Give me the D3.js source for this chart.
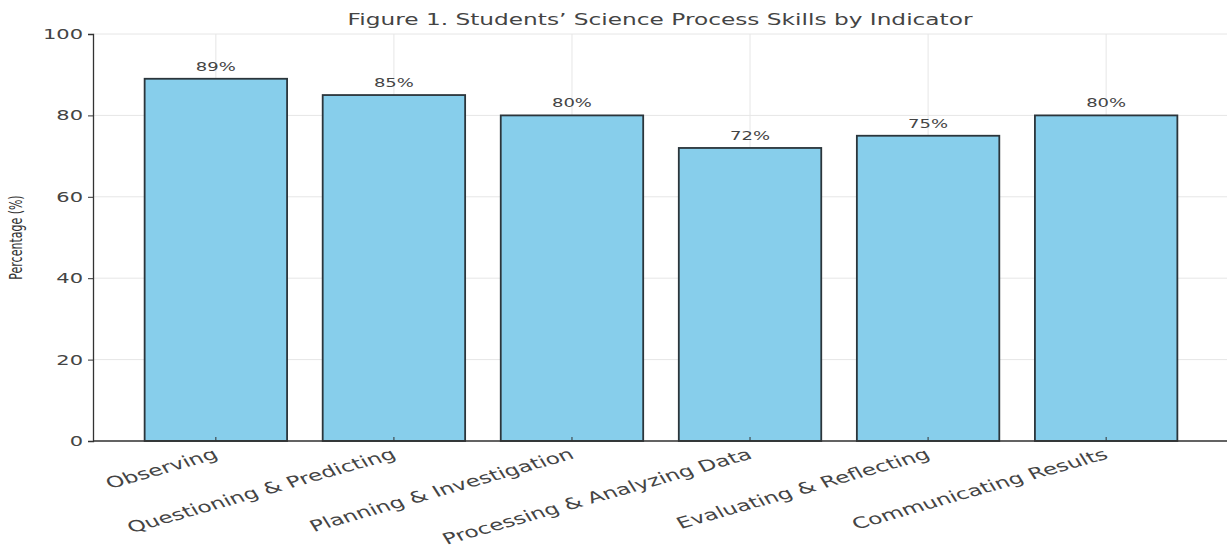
<!DOCTYPE html>
<html>
<head>
<meta charset="utf-8">
<script src="https://cdn.jsdelivr.net/npm/d3@7"></script>
<style>
  body { margin: 0; background: #fff; }
  svg { display: block; font-family: "DejaVu Sans", sans-serif; }
</style>
</head>
<body>
<svg id="chart" width="1227" height="554"></svg>
<script>
const categories = ["Observing", "Questioning & Predicting", "Planning & Investigation",
                    "Processing & Analyzing Data", "Evaluating & Reflecting", "Communicating Results"]
const percentages = [89, 85, 80, 72, 75, 80]
const yTicks = [0, 20, 40, 60, 80, 100]
const titleText = "Figure 1. Students\u2019 Science Process Skills by Indicator"
const yLabel = "Percentage (%)"

const svg = d3.select("#chart")
const plotLeft = 93, plotRight = 1229, plotTop = 34, plotBottom = 441
const stretch = 1.5 // reference text looks widened horizontally

// band positions like matplotlib: bar width 0.8, margin 0.29 each side
const x = d3.scaleLinear().domain([-0.69, categories.length - 1 + 0.69]).range([plotLeft, plotRight])
const y = d3.scaleLinear().domain([0, 100]).range([plotBottom, plotTop])
const barW = x(0.8) - x(0)

// grid
const grid = svg.append("g").attr("class", "grid")
grid.selectAll(".hg").data(yTicks).join("line")
    .attr("x1", plotLeft).attr("x2", 1227)
    .attr("y1", d => y(d)).attr("y2", d => y(d))
    .attr("stroke", "#e6e6e6").attr("stroke-width", 1)
grid.selectAll(".vg").data(categories).join("line")
    .attr("x1", (d, i) => x(i)).attr("x2", (d, i) => x(i))
    .attr("y1", plotTop).attr("y2", plotBottom)
    .attr("stroke", "#e6e6e6").attr("stroke-width", 1)

// bars
svg.append("g").selectAll("rect").data(percentages).join("rect")
    .attr("x", (d, i) => x(i) - barW / 2)
    .attr("y", d => y(d))
    .attr("width", barW)
    .attr("height", d => y(0) - y(d))
    .attr("fill", "#87CEEB")
    .attr("stroke", "#2b353b")
    .attr("stroke-width", 1.8)

// value labels
svg.append("g").selectAll("text").data(percentages).join("text")
    .attr("transform", (d, i) => `translate(${x(i)},${y(d) - 8}) scale(${stretch},1)`)
    .attr("text-anchor", "middle")
    .attr("font-size", 12)
    .attr("fill", "#444")
    .text(d => d + "%")

// y axis
const yAxis = svg.append("g").attr("transform", `translate(${plotLeft},0)`)
    .call(d3.axisLeft(y).tickValues(yTicks).tickSize(5).tickPadding(0))
yAxis.select(".domain").attr("stroke", "#333").attr("stroke-width", 1.3)
yAxis.selectAll(".tick line").attr("stroke", "#333")
yAxis.selectAll(".tick text")
    .attr("x", null)
    .attr("transform", `translate(-10,0) scale(${stretch},1)`)
    .attr("font-size", 14).attr("fill", "#444")
    .attr("font-family", "DejaVu Sans")

// x axis
const xAxis = svg.append("g").attr("transform", `translate(0,${plotBottom})`)
xAxis.append("line").attr("x1", plotLeft).attr("x2", 1227).attr("y1", 0).attr("y2", 0)
    .attr("stroke", "#333").attr("stroke-width", 1.3)
xAxis.selectAll(".xt").data(categories).join("line")
    .attr("x1", (d, i) => x(i)).attr("x2", (d, i) => x(i))
    .attr("y1", 0).attr("y2", -4)
    .attr("stroke", "#333")
xAxis.selectAll("text").data(categories).join("text")
    .attr("transform", (d, i) => `translate(${x(i) - 3},7) scale(${stretch},1) rotate(-23)`)
    .attr("text-anchor", "end")
    .attr("dy", "0.7em")
    .attr("font-size", 15.5)
    .attr("fill", "#444")
    .text(d => d)

// y label
svg.append("text")
    .attr("transform", `translate(22,${(plotTop + plotBottom) / 2}) scale(1.6,1) rotate(-90)`)
    .attr("text-anchor", "middle")
    .attr("font-size", 11)
    .attr("fill", "#333")
    .text(yLabel)

// title
svg.append("text")
    .attr("transform", `translate(660,25) scale(${stretch},1)`)
    .attr("text-anchor", "middle")
    .attr("font-size", 15.5)
    .attr("fill", "#444")
    .text(titleText)
</script>
</body>
</html>
